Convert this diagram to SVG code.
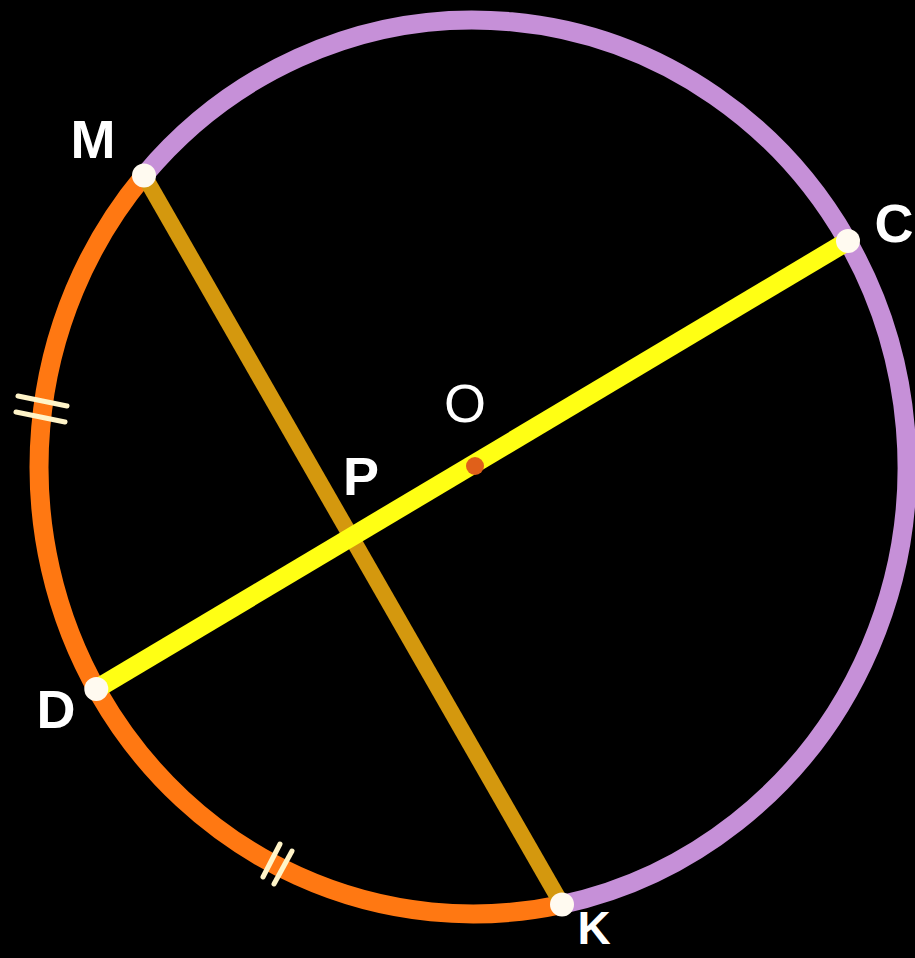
<svg xmlns="http://www.w3.org/2000/svg" width="915" height="958" viewBox="0 0 915 958">
<style>
.arc{fill:none;stroke-width:19;stroke-linecap:butt}
.tick{stroke:#fff4c8;stroke-width:5;stroke-linecap:round}
.pt{fill:#fffaf0}
.lbl{font-family:"Liberation Sans",Arial,sans-serif;font-weight:bold;font-size:54px;fill:#ffffff;text-anchor:middle}
</style>
<rect width="915" height="958" fill="#000000"/>
<g id="connectors">
<path id="arc-MCK" class="arc" stroke="#c690d8" d="M144,175.5 A434,447 0 1 1 562,904.5"/>
<path id="arc-KDM" class="arc" stroke="#ff7812" d="M562,904.5 A434,447 0 0 1 144,175.5"/>
<line id="chord-MK" x1="144" y1="175.5" x2="562" y2="904.5" stroke="#d4980e" stroke-width="16"/>
<line id="diameter-CD" x1="848" y1="241" x2="96.3" y2="689" stroke="#ffff14" stroke-width="19"/>
<line class="tick" x1="18" y1="396" x2="67" y2="406"/>
<line class="tick" x1="16" y1="412" x2="65" y2="422"/>
<line class="tick" x1="280" y1="844" x2="263" y2="877"/>
<line class="tick" x1="292" y1="851" x2="274" y2="884"/>
</g>
<g id="M"><circle class="pt" cx="144" cy="175.5" r="12"/><text class="lbl" x="93" y="158">M</text></g>
<g id="C"><circle class="pt" cx="848" cy="241" r="12"/><text class="lbl" x="894" y="242">C</text></g>
<g id="D"><circle class="pt" cx="96.3" cy="689" r="12"/><text class="lbl" x="56" y="728">D</text></g>
<g id="K"><circle class="pt" cx="562" cy="904.5" r="12"/><text class="lbl" x="594" y="944" style="font-size:46px">K</text></g>
<g id="P"><text class="lbl" x="361" y="495">P</text></g>
<g id="O"><circle cx="475" cy="466" r="9" fill="#e0601a"/><text class="lbl" x="465" y="422" style="font-weight:normal">O</text></g>
</svg>
